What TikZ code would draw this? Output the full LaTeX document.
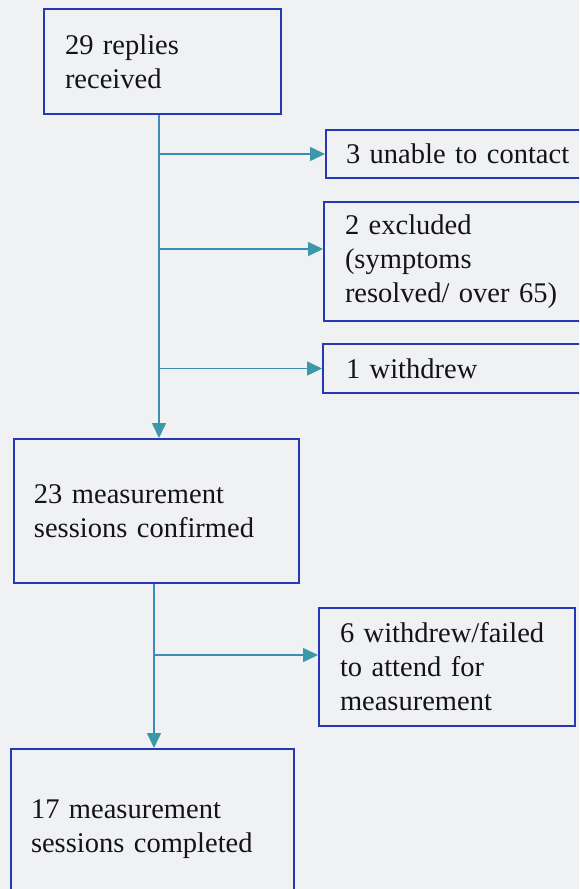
\documentclass[tikz,border=0pt]{standalone}
\usepackage{fontspec}
\setmainfont{Liberation Serif}
\usetikzlibrary{arrows.meta}
\definecolor{bgc}{HTML}{F0F1F3}
\definecolor{boxc}{HTML}{2438B8}
\definecolor{linec}{HTML}{3C8CBA}
\definecolor{tipc}{HTML}{3A98A8}
\definecolor{txtc}{HTML}{141418}
\tikzset{
  fbox/.style={draw=boxc, line width=2pt, anchor=north west, align=left,
    inner ysep=0pt, text=txtc, font=\fontsize{28.5}{34}\selectfont},
  conn/.style={draw=linec, line width=1.6pt},
  arr/.style={conn, -{Triangle[length=15pt,width=14pt,fill=tipc,color=tipc]}}
}
\begin{document}
\begin{tikzpicture}[x=1pt,y=-1pt]
\useasboundingbox (0,0) rectangle (579,889);
\clip (0,0) rectangle (579,889);
\fill[bgc] (0,0) rectangle (579,889);
% main column
\node[fbox, inner xsep=21pt, text width=195pt, minimum height=105pt] (b1) at (43,8) {29 replies\\received};
\node[fbox, inner xsep=20pt, text width=245pt, minimum height=144pt] (b23) at (13,438) {23 measurement\\sessions confirmed};
\node[fbox, inner xsep=20pt, text width=243pt, minimum height=160pt] (b17) at (10,748) {17 measurement\\sessions completed};
% side boxes
\node[fbox, inner xsep=20pt, text width=240pt, minimum height=48pt] (bu) at (325,129) {3 unable to contact};
\node[fbox, inner xsep=21pt, text width=240pt, minimum height=119pt] (be) at (323,201) {2 excluded\\(symptoms\\resolved/ over 65)};
\node[fbox, inner xsep=23pt, text width=240pt, minimum height=49pt] (bw) at (322,343) {1 withdrew};
\node[fbox, inner xsep=21pt, text width=214pt, minimum height=118pt] (b6) at (318,607) {6 withdrew/failed\\to attend for\\measurement};
% trunks
\coordinate (t1) at (159,0);
\coordinate (t2) at (154,0);
\draw[arr] (b1.south -| t1) -- (b23.north -| t1);
\draw[arr] (t1 |- bu.west) -- (bu.west);
\draw[arr] (t1 |- be.west) ++(0,-12.5) -- ([yshift=12.5pt]be.west);
\draw[arr] (t1 |- bw.west) -- (bw.west);
\draw[arr] (b23.south -| t2) -- (b17.north -| t2);
\draw[arr] (t2 |- b6.west) ++(0,-12) -- ([yshift=12pt]b6.west);
\end{tikzpicture}
\end{document}
